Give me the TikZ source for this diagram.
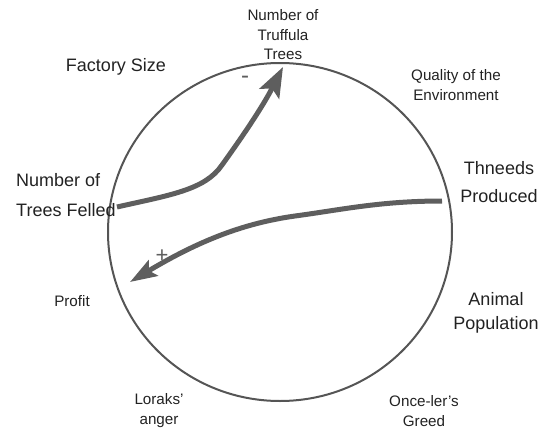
\documentclass[tikz,border=0pt]{standalone}
\usepackage{fontspec}
\setmainfont{Liberation Sans}
\usetikzlibrary{arrows.meta}
\definecolor{ink}{HTML}{222222}
\definecolor{ringc}{HTML}{555555}
\definecolor{arrc}{HTML}{5E5E5E}
\begin{document}
\begin{tikzpicture}[x=1pt,y=-1pt,
  lab/.style={inner sep=0pt, text=ink, align=center},
  sm/.style={lab, font=\fontsize{15.2}{19.5}\selectfont},
  lg/.style={lab, font=\fontsize{18}{28}\selectfont},
  flow/.style={draw=arrc, line width=5pt},
  sign/.style={inner sep=0pt, text=arrc}]
\useasboundingbox (0,0) rectangle (547,429);
\draw[ringc, line width=2pt] (280,232) ellipse [x radius=172pt, y radius=169pt];

\node[sm] (truffula) at (283,35) {Number of\\Truffula\\Trees};
\node[lg] (factory) at (116,67) {Factory Size};
\node[sm, font=\fontsize{15.2}{20}\selectfont] (quality) at (456,85) {Quality of the\\Environment};
\node[lg] (thneeds) at (499,182) {Thneeds\\Produced};
\node[lg, align=left, anchor=west, font=\fontsize{18}{30}\selectfont] (felled) at (16,195) {Number of\\Trees Felled};
\node[sm] (profit) at (72,301) {Profit};
\node[lg, font=\fontsize{18}{24}\selectfont] (animal) at (496,313) {Animal\\Population};
\node[sm, font=\fontsize{15.2}{20}\selectfont] (loraks) at (159,411) {Loraks'\\anger};
\node[sm, font=\fontsize{15.2}{20}\selectfont] (onceler) at (424,411) {Once-ler’s\\Greed};

\coordinate (a1s) at (117,207);
\coordinate (a1e) at (283,67);
\coordinate (a2s) at (442,201);
\coordinate (a2e) at (130,282);

\draw[flow, -{Stealth[length=30pt,width=22pt,inset=6pt]}]
  (a1s) .. controls (170,195) and (205,190) .. (222,165)
        .. controls (240,140) and (262,108) .. (a1e);
\draw[flow, -{Stealth[length=27pt,width=18pt,inset=5pt]}]
  (a2s) .. controls (380,201) and (340,210) .. (295,216)
        .. controls (245,223) and (200,240) .. (a2e);

\node[sign, font=\fontsize{24}{24}\selectfont] (minus) at (245,80) {-};
\node[sign, font=\fontsize{22}{22}\selectfont] (plus) at (162,256) {+};
\end{tikzpicture}
\end{document}
